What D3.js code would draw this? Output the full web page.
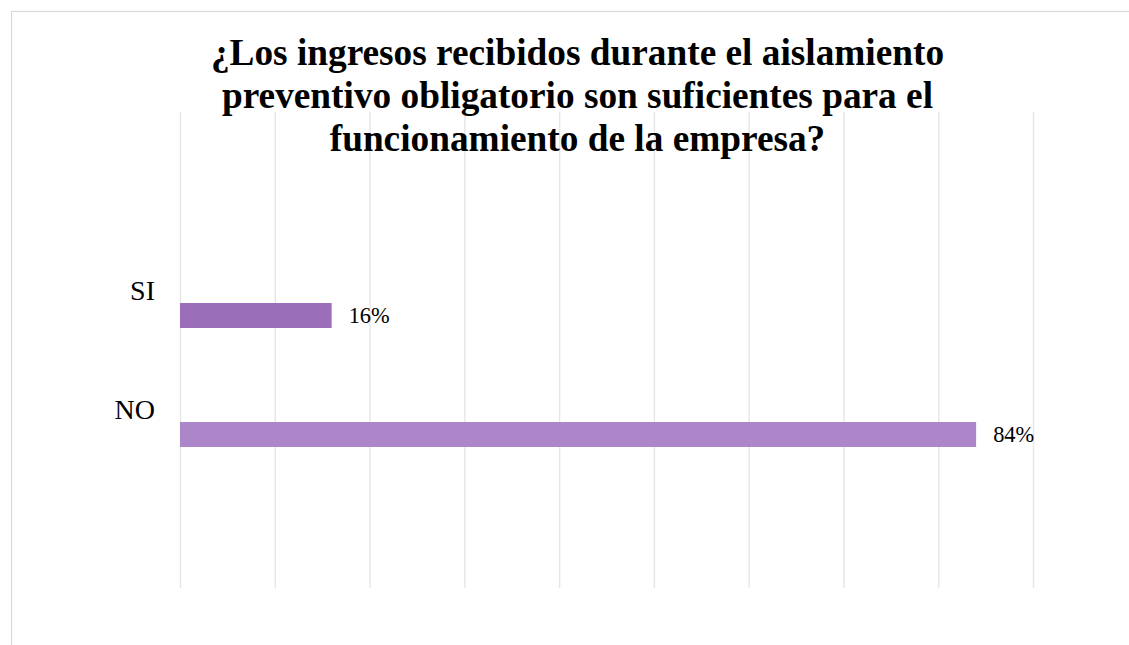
<!DOCTYPE html>
<html>
<head>
<meta charset="utf-8">
<script src="https://cdn.jsdelivr.net/npm/d3@7"></script>
<style>
  html, body { margin: 0; padding: 0; background: #ffffff; }
  svg { display: block; }
</style>
</head>
<body>
<svg id="chart" width="1129" height="645"></svg>
<script>
const titleLines = [
  "¿Los ingresos recibidos durante el aislamiento",
  "preventivo obligatorio son suficientes para el",
  "funcionamiento de la empresa?"
];
const categories = ["SI", "NO"];
const values = [0.16, 0.84];
const valueLabels = ["16%", "84%"];
const barColors = ["#9b6eba", "#ac86c8"];
const gridTicks = [0, 0.1, 0.2, 0.3, 0.4, 0.5, 0.6, 0.7, 0.8, 0.9];

const svg = d3.select("#chart");
const W = 1129, H = 645;

svg.append("rect").attr("x", 0).attr("y", 0).attr("width", W).attr("height", H).attr("fill", "#fff");
// chart border (extends past right and bottom)
svg.append("rect")
  .attr("x", 11.5).attr("y", 11.5)
  .attr("width", W + 20).attr("height", H + 20)
  .attr("fill", "none").attr("stroke", "#d9d9d9").attr("stroke-width", 1.2);

const plot = { left: 180, right: 1033, top: 112, bottom: 588 };

const x = d3.scaleLinear().domain([0, 0.9]).range([plot.left, plot.right]);
const y = d3.scalePoint().domain(categories).range([315.5, 434.5]);
const barH = 25;

// gridlines via axis
const gridAxis = d3.axisBottom(x).tickValues(gridTicks).tickSize(-(plot.bottom - plot.top)).tickFormat("");
const g = svg.append("g").attr("transform", `translate(0,${plot.bottom})`).call(gridAxis);
g.select(".domain").remove();
g.selectAll(".tick line").attr("stroke", "#e6e6e6").attr("stroke-width", 1.4);

// title
const title = svg.append("text")
  .attr("text-anchor", "middle")
  .attr("font-family", "'Liberation Serif', 'Times New Roman', serif")
  .attr("font-weight", "bold")
  .attr("font-size", 37.3)
  .attr("fill", "#000");
titleLines.forEach((t, i) => {
  title.append("tspan").attr("x", 577.5).attr("y", 65 + i * 43).text(t);
});

// bars
svg.selectAll("rect.bar").data(categories).enter().append("rect")
  .attr("class", "bar")
  .attr("x", x(0))
  .attr("y", d => y(d) - barH / 2)
  .attr("width", (d, i) => x(values[i]) - x(0))
  .attr("height", barH)
  .attr("fill", (d, i) => barColors[i]);

// category labels
svg.selectAll("text.cat").data(categories).enter().append("text")
  .attr("class", "cat")
  .attr("x", 155)
  .attr("y", d => y(d) - 15.5)
  .attr("text-anchor", "end")
  .attr("font-family", "'Liberation Serif', 'Times New Roman', serif")
  .attr("font-size", 28)
  .attr("fill", "#000")
  .text(d => d);

// value labels
svg.selectAll("text.val").data(categories).enter().append("text")
  .attr("class", "val")
  .attr("x", (d, i) => x(values[i]) + 17)
  .attr("y", d => y(d) + 7.5)
  .attr("font-family", "'Liberation Serif', 'Times New Roman', serif")
  .attr("font-size", 22.4)
  .attr("fill", "#000")
  .text((d, i) => valueLabels[i]);
</script>
</body>
</html>
